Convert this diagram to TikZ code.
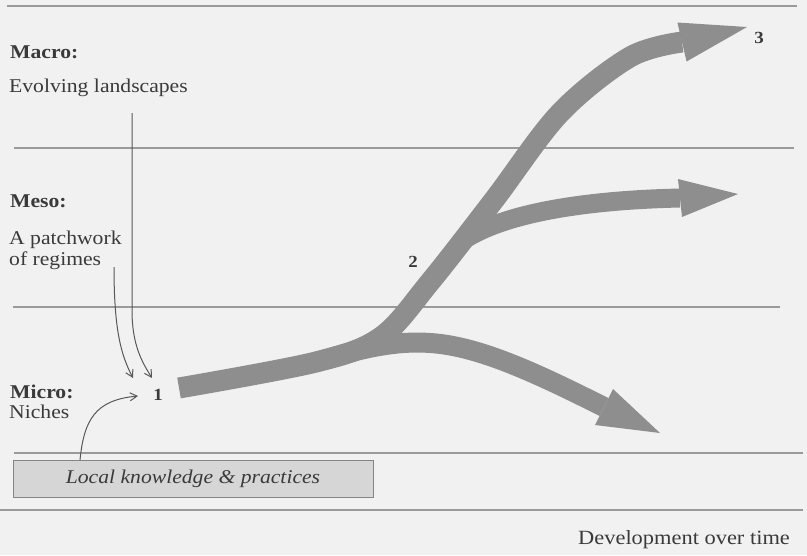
\documentclass[tikz,border=0pt]{standalone}
\usepackage{fontspec}
\setmainfont{Liberation Serif}[FakeStretch=1.11]
\usetikzlibrary{arrows.meta}
\definecolor{bg}{HTML}{F1F1F1}
\definecolor{ink}{HTML}{3A3A3A}
\definecolor{band}{HTML}{8E8E8E}
\definecolor{rule}{HTML}{9A9A9A}
\definecolor{boxfill}{HTML}{D6D6D6}
\definecolor{boxline}{HTML}{858585}
\begin{document}
\begin{tikzpicture}[x=1pt,y=-1pt,
  lbl/.style={anchor=base west, inner sep=0pt, text=ink, font=\fontsize{19.5}{23}\selectfont},
  hd/.style={anchor=base west, inner sep=0pt, text=ink, font=\fontsize{19.5}{23}\selectfont\bfseries},
  num/.style={anchor=base, inner sep=0pt, text=ink, font=\fontsize{17}{20}\selectfont\bfseries},
  rulel/.style={draw=rule, line width=1.3pt},
  thinarrow/.style={draw=ink!85, line width=1pt, -{Straight Barb[length=7pt,width=8pt]}},
  bandl/.style={draw=band, line width=21pt, line cap=butt, line join=round},
  headtri/.style={fill=band},
]
% background / bounding box
\fill[bg] (0,0) rectangle (807,555);
\useasboundingbox (0,0) rectangle (807,555);

% horizontal rules
\coordinate (r1a) at (7,6);   \coordinate (r1b) at (797,6);
\coordinate (r2a) at (14,148); \coordinate (r2b) at (794,148);
\coordinate (r3a) at (13,307); \coordinate (r3b) at (780,307);
\coordinate (r4a) at (14,453); \coordinate (r4b) at (803,453);
\coordinate (r5a) at (0,510);  \coordinate (r5b) at (803,510);
\draw[rulel] (r1a) -- (r1b);
\draw[rulel] (r2a) -- (r2b);
\draw[rulel] (r3a) -- (r3b);
\draw[rulel] (r4a) -- (r4b);
\draw[rulel] (r5a) -- (r5b);

% labels
\node[hd]  (macro) at (10,58)  {Macro:};
\node[lbl] (evol)  at (9,92)   {Evolving landscapes};
\node[hd]  (meso)  at (10,207) {Meso:};
\node[lbl] (patch) at (9,244)  {A patchwork};
\node[lbl] (ofreg) at (9,265)  {of regimes};
\node[hd]  (micro) at (10,398) {Micro:};
\node[lbl] (niche) at (9,418)  {Niches};
\node[num] (n1) at (158,400) {1};
\node[num] (n2) at (413,267) {2};
\node[num] (n3) at (759,43)  {3};
\node[lbl, font=\fontsize{20.2}{24}\selectfont] (dev) at (578,544) {Development over time};

% local knowledge box
\node[draw=boxline, fill=boxfill, line width=1pt, minimum width=360pt,
      text height=23pt, text depth=14pt, inner ysep=0pt, inner xsep=0pt,
      text=ink, font=\fontsize{19.5}{23}\selectfont\itshape]
      (box) at (193,478.5) {Local knowledge \& practices};

% thin arrows
\coordinate (macrostart) at (132,113);
\coordinate (macrobend) at (132,310);
\coordinate (macrotip) at (152,378);
\coordinate (mesostart) at (114,267);
\coordinate (mesotip) at (133,378);
\coordinate (boxstart) at (80,460);
\coordinate (boxtip) at (138,396);
\draw[thinarrow] (macrostart) -- (macrobend) .. controls (132,345) and (142,362) .. (macrotip);
\draw[thinarrow] (mesostart) .. controls (114,330) and (121,355) .. (mesotip);
\draw[thinarrow] (boxstart) .. controls (84,420) and (95,400) .. (boxtip);

% big grey arrows
\coordinate (t0) at (179,388);
\coordinate (t3) at (682,42);
\draw[bandl] plot[smooth, tension=0.55] coordinates
  {(t0) (316,362) (381,337) (430,282) (494,200) (560,113) (630,57) (t3)};
\coordinate (m0) at (462,241);
\coordinate (m1) at (680,198);
\draw[bandl, line width=19pt] (m0) .. controls (505,212) and (590,200) .. (m1);
\coordinate (l0) at (316,362);
\coordinate (lmid) at (430,343);
\coordinate (l1) at (604,407);
\draw[bandl, line width=20pt] (l0) .. controls (350,352) and (390,340) .. (lmid)
                                    .. controls (480,346) and (540,375) .. (l1);

\fill[headtri] (677.4,22.5) -- (747,27) -- (686.6,61.5) -- cycle;
\fill[headtri] (678,179) -- (738,194) -- (682,217) -- cycle;
\fill[headtri] (613,389) -- (660,433) -- (595,425) -- cycle;
\end{tikzpicture}
\end{document}
